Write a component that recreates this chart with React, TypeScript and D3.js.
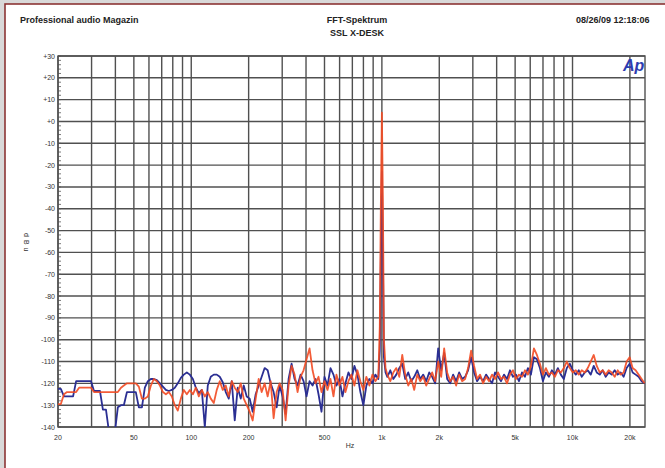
import React from 'react';
import * as d3 from 'd3';

// frequency bins (Hz), shared by both channels
const FREQS = [
  20, 20.7, 21.5, 22.3, 23.1, 24, 24.9, 25.8, 26.7, 27.7,
  28.7, 29.8, 30.9, 32, 33.2, 34.4, 35.7, 37, 38.4, 39.8,
  41.2, 42.8, 44.3, 46, 47.7, 49.4, 51.2, 53.1, 55.1, 57.1,
  59.2, 61.4, 63.7, 66, 68.5, 71, 73.6, 76.3, 79.1, 82,
  85, 88.2, 91.4, 94.8, 98.3, 102, 105.7, 109.6, 113.6, 117.8,
  122.1, 126.6, 131.3, 136.1, 141.1, 146.3, 151.7, 157.3, 163.1, 169.1,
  175.3, 181.8, 188.5, 195.4, 202.6, 210, 217.8, 225.8, 234.1, 242.7,
  251.7, 260.9, 270.5, 280.5, 290.8, 301.5, 312.6, 324.1, 336, 348.4,
  361.2, 374.5, 388.3, 402.6, 417.4, 432.8, 448.7, 465.2, 482.3, 500,
  518.4, 537.5, 557.3, 577.8, 599, 621, 643.9, 667.6, 692.2, 717.6,
  744, 771.4, 799.8, 829.2, 859.7, 891.4, 924.2, 958.2, 975, 988,
  1000, 1012, 1025, 1045, 1068, 1107, 1148, 1190, 1234, 1279,
  1326, 1375, 1426, 1478, 1533, 1589, 1648, 1708, 1771, 1836,
  1904, 1974, 2047, 2122, 2200, 2281, 2365, 2452, 2542, 2636,
  2733, 2833, 2938, 3046, 3158, 3274, 3395, 3520, 3649, 3783,
  3922, 4067, 4216, 4371, 4532, 4699, 4872, 5051, 5237, 5430,
  5629, 5836, 6051, 6274, 6505, 6744, 6992, 7249, 7516, 7792,
  8079, 8376, 8684, 9004, 9335, 9678, 10034, 10403, 10786, 11183,
  11594, 12021, 12463, 12922, 13397, 13890, 14401, 14931, 15481, 16050,
  16641, 17253, 17888, 18546, 19229, 19936, 20670, 21430, 22219, 23037,
  23884,
];

// channel A (blue), dBu
const BLUE = [
  -122.5, -122.5, -126, -126, -126, -126, -119, -119, -119, -119,
  -119, -119, -123.5, -123.5, -123.5, -132, -132, -142, -142, -142,
  -131, -130, -130, -124, -124, -124, -124, -131, -131, -122,
  -119, -118, -118, -118.5, -120, -121.5, -123, -123.5, -123, -122,
  -120, -117.5, -116, -115, -116, -118, -122, -124.5, -123, -140,
  -121, -117, -116, -116, -117, -119.5, -124, -127, -119, -137,
  -122, -127, -121, -126, -127, -133, -125, -121, -117, -113,
  -114, -120, -124, -131, -121, -126, -134, -118, -111, -118,
  -121, -116, -119, -126, -119, -121, -118, -125, -133, -117,
  -121, -113, -116, -121, -118, -126, -120, -115, -118, -112,
  -116, -124, -130, -121, -118, -120, -116, -118, -105, -60,
  -23, -60, -108, -115, -117, -114, -118, -116, -113, -111,
  -118, -115, -119, -117, -114, -118, -116, -119, -115, -117,
  -120, -104, -114, -106, -118, -120, -116, -119, -115, -118,
  -117, -114, -108, -115, -119, -117, -119, -116, -118, -120,
  -115, -117, -119, -116, -118, -114, -117, -116, -119, -115,
  -117, -113, -116, -108, -109, -113, -119, -115, -117, -114,
  -116, -113, -116, -118, -113, -111, -114, -116, -114, -117,
  -115, -114, -116, -112, -115, -116, -114, -117, -115, -116,
  -114, -116, -115, -117, -113, -111, -115, -116, -117, -119,
  -120,
];

// channel B (red), dBu
const RED = [
  -129.5, -129.5, -125, -124, -124, -124, -124, -122, -122, -122,
  -122, -122, -124, -124, -124, -124, -124, -124, -124, -124,
  -124, -122, -121, -120, -120, -120, -120, -121.5, -127, -127,
  -126, -121, -118, -119, -121, -124, -125, -124, -126, -130,
  -132.5, -127, -123, -125, -123, -125, -122, -126, -123, -126,
  -124, -127, -129, -123, -119, -123, -121, -126, -119, -122,
  -124, -120, -127, -130, -133, -137, -127, -118, -124, -120,
  -126, -119, -136, -124, -120, -123, -137, -121, -112, -116,
  -124, -117, -114, -109, -104, -114, -120, -117, -124, -119,
  -123, -118, -126, -116, -121, -117, -124, -119, -116, -121,
  -114, -119, -123, -117, -121, -116, -119, -117, -94, -36,
  4, -36, -100, -113, -116, -119, -115, -113, -117, -107,
  -116, -121, -118, -123, -116, -119, -117, -121, -118, -115,
  -119, -110, -117, -104, -115, -119, -117, -121, -116, -119,
  -118, -113, -105, -112, -118, -116, -120, -117, -119, -116,
  -118, -115, -118, -117, -120, -116, -114, -118, -116, -117,
  -114, -116, -112, -104, -107, -111, -116, -113, -116, -115,
  -117, -114, -115, -113, -110, -113, -115, -114, -116, -114,
  -115, -113, -110, -107, -112, -115, -114, -116, -114, -115,
  -117, -114, -116, -115, -110, -108, -113, -114, -116, -118,
  -120,
];

const Y_TICKS = [30, 20, 10, 0, -10, -20, -30, -40, -50, -60, -70, -80, -90, -100, -110, -120, -130, -140];
const Y_LABELS = ['+30', '+20', '+10', '+0', '-10', '-20', '-30', '-40', '-50', '-60', '-70', '-80', '-90', '-100', '-110', '-120', '-130', '-140'];
const X_TICKS = [20, 50, 100, 200, 500, 1000, 2000, 5000, 10000, 20000];
const X_LABELS = ['20', '50', '100', '200', '500', '1k', '2k', '5k', '10k', '20k'];
const GRID_FREQS = [
  20, 30, 40, 50, 60, 70, 80, 90, 100, 200, 300, 400, 500, 600, 700, 800, 900,
  1000, 2000, 3000, 4000, 5000, 6000, 7000, 8000, 9000, 10000, 20000,
];

const W = 665;
const H = 468;
const plot = { left: 58, right: 645, top: 56, bottom: 427 };
const font = '"Liberation Sans", Arial, sans-serif';

export default function App() {
  const x = d3.scaleLog().domain([20, 24000]).range([plot.left, plot.right]);
  const y = d3.scaleLinear().domain([-140, 30]).range([plot.bottom, plot.top]);

  const line = d3
    .line<number>()
    .x((_, i) => x(FREQS[i]))
    .y((d) => y(d));

  const minorTicks = d3.range(-140, 31, 2);

  return (
    <svg width={W} height={H} style={{ position: 'absolute', left: 0, top: 0 }} fontFamily={font}>
      <defs>
        <clipPath id="plot-clip">
          <rect x={plot.left} y={plot.top} width={plot.right - plot.left} height={plot.bottom - plot.top} />
        </clipPath>
      </defs>

      {/* page frame */}
      <rect x={0} y={0} width={W} height={H} fill="#d9d9d9" />
      <rect x={5} y={4} width={W} height={H} fill="#fff" stroke="#8c3535" strokeWidth={1.6} />

      {/* header */}
      <text x={20} y={23} fontSize={9} fontWeight="bold" fill="#222">Professional audio Magazin</text>
      <text x={357} y={23} fontSize={9} fontWeight="bold" fill="#222" textAnchor="middle">FFT-Spektrum</text>
      <text x={357} y={36} fontSize={9} fontWeight="bold" fill="#222" textAnchor="middle">SSL X-DESK</text>
      <text x={576} y={23} fontSize={9} fontWeight="bold" fill="#222">08/26/09 12:18:06</text>

      {/* grid */}
      {Y_TICKS.map((t) => (
        <line key={'h' + t} x1={plot.left} x2={plot.right} y1={y(t)} y2={y(t)} stroke="#505050" strokeWidth={1.4} />
      ))}
      {GRID_FREQS.map((f) => (
        <line key={'v' + f} x1={x(f)} x2={x(f)} y1={plot.top} y2={plot.bottom} stroke="#505050" strokeWidth={1.4} />
      ))}
      {minorTicks.map((t) => (
        <line key={'m' + t} x1={plot.left} x2={plot.left + 3} y1={y(t)} y2={y(t)} stroke="#555" strokeWidth={0.8} />
      ))}
      <rect
        x={plot.left}
        y={plot.top}
        width={plot.right - plot.left}
        height={plot.bottom - plot.top}
        fill="none"
        stroke="#505050"
        strokeWidth={1.4}
      />

      {/* traces */}
      <g clipPath="url(#plot-clip)" fill="none" strokeLinejoin="round">
        <path d={line(BLUE) ?? ''} stroke="#2b2f93" strokeWidth={1.8} />
        <path d={line(RED) ?? ''} stroke="#f24a22" strokeWidth={1.8} strokeOpacity={0.9} />
      </g>

      {/* Ap logo */}
      <text x={623} y={71} fontSize={16} fontWeight="bold" fontStyle="italic" fill="#2e3cb0">Ap</text>

      {/* y axis labels */}
      {Y_TICKS.map((t, i) => (
        <text key={'yl' + t} x={55} y={y(t) + 2.5} fontSize={7} fill="#333" textAnchor="end">
          {Y_LABELS[i]}
        </text>
      ))}
      <text transform="translate(24,233) rotate(90)" fontSize={7} fill="#333" letterSpacing={3}>dBu</text>

      {/* x axis labels */}
      {X_TICKS.map((t, i) => (
        <text key={'xl' + t} x={x(t)} y={440} fontSize={7} fill="#333" textAnchor="middle">
          {X_LABELS[i]}
        </text>
      ))}
      <text x={350} y={448} fontSize={7} fill="#333" textAnchor="middle">Hz</text>
    </svg>
  );
}
